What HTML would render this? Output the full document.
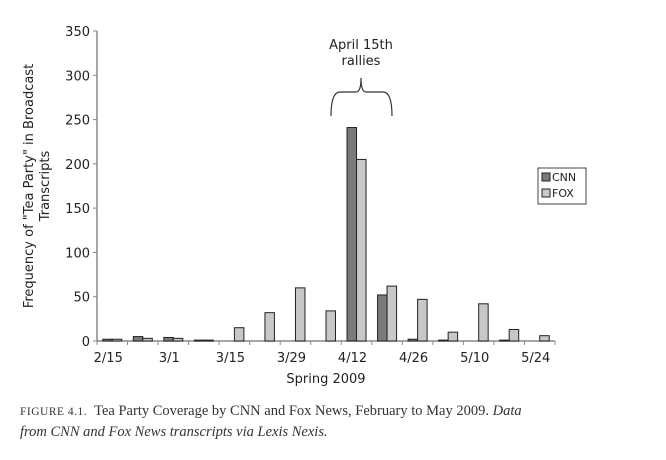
<!DOCTYPE html>
<html><head><meta charset="utf-8"><style>
body{margin:0;background:#fff;width:666px;height:460px;overflow:hidden}
svg text{font-family:"DejaVu Sans","Liberation Sans",sans-serif;fill:#222}
.cap{position:absolute;left:20px;top:401px;width:532px;font-family:"Liberation Serif",serif;font-size:14.5px;line-height:20px;color:#333}
</style></head><body>
<svg id="chart" width="666" height="460" style="position:absolute;left:0;top:0"></svg>
<div class="cap"><span style="font-size:11.5px;letter-spacing:0.5px">FIGURE 4.1.</span>&nbsp; Tea Party Coverage by CNN and Fox News, February to May 2009. <i>Data from CNN and Fox News transcripts via Lexis Nexis.</i></div>
<script>
const weeks=["2/15","2/22","3/1","3/8","3/15","3/22","3/29","4/5","4/12","4/19","4/26","5/3","5/10","5/17","5/24"];
const cnn=[2,5,4,1,0,0,0,0,241,52,2,1,0,1,0];
const fox=[2,3,3,1,15,32,60,34,205,62,47,10,42,13,6];
const yTicks=[0,50,100,150,200,250,300,350];
const xLabelIdx=[0,2,4,6,8,10,12,14];
const NS="http://www.w3.org/2000/svg";
const svg=document.getElementById('chart');
const x0=97,x1=555,y0=341,yTop=31,maxV=350;
const gw=(x1-x0)/weeks.length;
const y=v=>y0-(v/maxV)*(y0-yTop);
const xg=i=>x0+i*gw;
function mk(t,a){const e=document.createElementNS(NS,t);for(const k in a)e.setAttribute(k,a[k]);svg.appendChild(e);return e;}
let e;
e=mk('line',{x1:x0,y1:yTop,x2:x0,y2:y0,stroke:'#888','stroke-width':1.5});


e=mk('line',{x1:x0,y1:y0,x2:x1,y2:y0,stroke:'#888','stroke-width':1.5});


yTicks.forEach(v=>{
 e=mk('line',{x1:x0-4,y1:y(v),x2:x0,y2:y(v),stroke:'#888'});
 
 
 e=mk('text',{x:x0-7,y:y(v)+5,'text-anchor':'end','font-size':13});
 e.textContent=v;
 
 
});
for(let i=0;i<=weeks.length;i++){
 e=mk('line',{x1:xg(i),y1:y0,x2:xg(i),y2:y0+4,stroke:'#888'});
 
 
}
xLabelIdx.forEach(i=>{
 e=mk('text',{x:xg(i)+gw/2-4,y:y0+21,'text-anchor':'middle','font-size':13});
 e.textContent=weeks[i];
 
 
});
const bw=9.5;
weeks.forEach((w,i)=>{
 const cx=xg(i)+gw/2;
 e=mk('rect',{x:cx-bw,y:y(cnn[i]),width:bw,height:y0-y(cnn[i]),fill:'#7a7a7a',stroke:'#222','stroke-width':1});
 
 
 e=mk('rect',{x:cx,y:y(fox[i]),width:bw,height:y0-y(fox[i]),fill:'#c8c8c8',stroke:'#222','stroke-width':1});
 
 
});
e=mk('text',{x:326,y:383,'text-anchor':'middle','font-size':13});
e.textContent='Spring 2009';


e=mk('text',{transform:'translate(33,186) rotate(-90)','text-anchor':'middle','font-size':13});
e.textContent='Frequency of "Tea Party" in Broadcast';


e=mk('text',{transform:'translate(49,186) rotate(-90)','text-anchor':'middle','font-size':13});
e.textContent='Transcripts';


e=mk('text',{x:361,y:49,'text-anchor':'middle','font-size':13});
e.textContent='April 15th';


e=mk('text',{x:361,y:65,'text-anchor':'middle','font-size':13});
e.textContent='rallies';


e=mk('path',{d:'M331,116 Q331,92 340,92 L356,92 Q361,92 361,78 Q361,92 366,92 L383,92 Q392,92 392,116',fill:'none',stroke:'#333','stroke-width':1.2});


e=mk('rect',{x:538,y:168,width:48,height:36,fill:'#fff',stroke:'#444'});


[['CNN','#7a7a7a',181],['FOX','#c8c8c8',197]].forEach(([n,c,yy])=>{
 e=mk('rect',{x:542,y:yy-8,width:8,height:8,fill:c,stroke:'#222'});
 
 
 e=mk('text',{x:552,y:yy,'font-size':11});
 e.textContent=n;
 
 
});
</script>
</body></html>
